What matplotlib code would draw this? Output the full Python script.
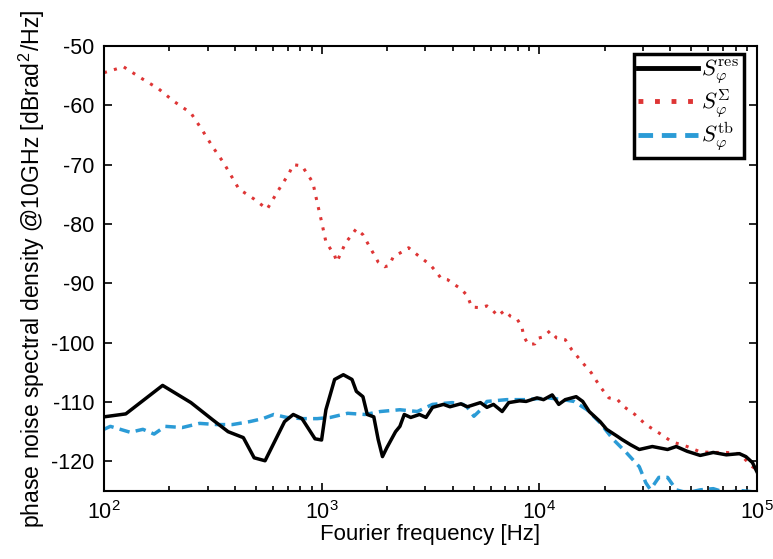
#!/usr/bin/env python3
"""Phase noise spectral density @10GHz: residual, sum and testbench curves."""
import matplotlib
matplotlib.use("Agg")
import matplotlib.pyplot as plt
from matplotlib.ticker import LogLocator, FixedLocator

plt.rcParams["font.family"] = ["Liberation Sans", "DejaVu Sans"]
plt.rcParams["mathtext.fontset"] = "cm"
plt.rcParams["axes.unicode_minus"] = False

# ---- data (Hz, dBrad^2/Hz) ----
sum_f = [100, 123, 148, 178, 209, 251, 282, 316, 355, 417, 490, 562, 631, 708,
         741, 813, 912, 955, 1000, 1047, 1148, 1175, 1288, 1445, 1549, 1820,
         1950, 2042, 2138, 2344, 2512, 2754, 3162, 3388, 3548, 3802, 4074, 4365,
         4677, 4898, 5370, 5754, 6026, 6457, 6918, 7413, 7943, 8318, 8511, 8913,
         9550, 9772, 10471, 11220, 12023, 13183, 14125, 15849, 17378, 19055,
         20893, 22909, 24547, 27542, 30903, 35481, 40738, 47863, 54954, 63096,
         72444, 83176, 95499, 100000]
sum_db = [-54.5, -53.5, -55.4, -57.2, -59.3, -61.3, -64.1, -67.0, -69.7, -74.1,
          -75.8, -77.5, -74.4, -71.5, -70.0, -70.2, -73.0, -76.4, -79.6, -83.0,
          -85.3, -86.4, -83.2, -80.8, -81.8, -86.4, -87.2, -87.0, -85.5, -84.7,
          -84.0, -85.2, -86.9, -88.2, -89.2, -89.4, -90.2, -90.9, -92.1, -94.0,
          -94.1, -93.8, -94.3, -95.5, -94.6, -95.6, -96.1, -97.3, -99.0, -100.3,
          -100.2, -99.3, -99.0, -98.0, -99.2, -99.5, -101.2, -103.4, -105.1,
          -107.4, -109.3, -109.6, -110.8, -112.1, -113.8, -115.2, -116.7, -117.5,
          -118.4, -118.5, -118.5, -118.7, -120.9, -121.4]

res_f = [100, 126, 186, 251, 316, 372, 437, 490, 550, 676, 741, 813, 933, 1000,
         1047, 1148, 1259, 1380, 1445, 1549, 1622, 1738, 1820, 1905, 1995, 2188,
         2291, 2399, 2570, 2818, 3020, 3236, 3631, 3890, 4365, 4677, 5370, 5754,
         6166, 6761, 7244, 8128, 8710, 9772, 10471, 11482, 12303, 13183, 14791,
         15849, 16982, 19055, 20417, 22909, 23988, 26303, 28840, 33113, 38905,
         42658, 47863, 54954, 63096, 72444, 83176, 89125, 95499, 100000]
res_db = [-112.5, -112.0, -107.2, -110.1, -113.0, -115.0, -116.0, -119.4, -119.9,
          -113.3, -112.1, -112.8, -116.2, -116.4, -111.3, -106.2, -105.4, -106.2,
          -108.2, -109.1, -112.1, -112.5, -116.3, -119.2, -117.7, -115.0, -114.1,
          -112.1, -112.6, -112.1, -112.6, -110.9, -110.4, -110.8, -110.3, -110.8,
          -110.1, -110.9, -110.4, -111.6, -110.1, -109.8, -109.9, -109.3, -109.6,
          -108.8, -110.4, -109.6, -109.1, -109.9, -111.6, -113.3, -114.6, -115.8,
          -116.3, -117.2, -118.0, -117.5, -118.0, -117.5, -118.3, -119.0, -118.5,
          -118.9, -118.7, -119.2, -120.2, -121.7]

tb_f = [100, 107, 132, 151, 170, 191, 229, 275, 331, 389, 468, 537, 603, 692,
        813, 955, 1096, 1318, 1585, 1862, 2291, 2754, 3236, 3981, 4467, 4677,
        5012, 5495, 5754, 7079, 8710, 10965, 12882, 14454, 16596, 19055, 21878,
        25119, 28840, 30903, 32359, 33113, 35481, 38905, 42658, 47863, 54954,
        63096, 72444, 83176, 100000]
tb_db = [-114.6, -114.1, -115.1, -114.6, -115.4, -114.1, -114.3, -113.6, -113.8,
         -113.8, -113.3, -112.8, -112.1, -112.6, -112.8, -112.8, -112.6, -111.9,
         -112.1, -111.6, -111.3, -111.6, -110.4, -110.1, -110.4, -110.9, -112.4,
         -111.0, -109.9, -109.6, -109.6, -109.3, -109.6, -109.9, -111.3, -113.5,
         -116.3, -118.5, -120.9, -123.6, -124.7, -124.3, -122.7, -122.7, -124.8,
         -125.3, -124.8, -124.6, -125.3, -124.9, -125.2]

labels = [r"$S_\varphi^{\mathrm{res}}$", r"$S_\varphi^{\Sigma}$",
          r"$S_\varphi^{\mathrm{tb}}$"]

RED = "#de3535"
BLUE = "#2b9bd6"

fig = plt.figure(figsize=(7.73, 5.59), dpi=100)
ax = fig.add_axes([0.1345, 0.1216, 0.8445, 0.7961])

ax.plot(res_f, res_db, color="black", lw=2.5, label=labels[0], zorder=3)
ax.plot(sum_f, sum_db, color=RED, lw=2.2, linestyle=(0, (1, 2.4)),
        label=labels[1], zorder=2)
ax.plot(tb_f, tb_db, color=BLUE, lw=2.5, linestyle=(0, (3, 1.8)),
        label=labels[2], zorder=2)

ax.set_xscale("log")
ax.set_xlim(100, 1e5)
ax.set_ylim(-125, -50)
ax.yaxis.set_major_locator(FixedLocator(range(-120, -49, 10)))
ax.xaxis.set_major_locator(LogLocator(base=10, numticks=10))
ax.xaxis.set_minor_locator(LogLocator(base=10, subs=range(2, 10), numticks=20))

ax.tick_params(which="both", direction="in", top=True, right=True,
               labelsize=15.5, width=1.2)
ax.tick_params(which="major", length=6)
ax.tick_params(which="minor", length=3.5)
ax.tick_params(axis="x", pad=7)
ax.tick_params(axis="y", pad=7)
for sp in ax.spines.values():
    sp.set_linewidth(1.5)

ax.set_xlabel("Fourier frequency [Hz]", fontsize=16, labelpad=0)
ax.set_ylabel(r"phase noise spectral density @10GHz [dBrad$^{\mathdefault{2}}$/Hz]",
              fontsize=16.6, labelpad=3)

leg = ax.legend(loc="upper right", bbox_to_anchor=(0.98, 0.983),
                borderaxespad=0, fontsize=16.5, fancybox=False, framealpha=1,
                edgecolor="black", handlelength=2.6, handletextpad=0.15,
                labelspacing=0.0, borderpad=0.2)
leg.get_frame().set_linewidth(2.5)
for h in leg.get_lines():
    h.set_linewidth(3.5)

fig.savefig("out.png", dpi=100)
